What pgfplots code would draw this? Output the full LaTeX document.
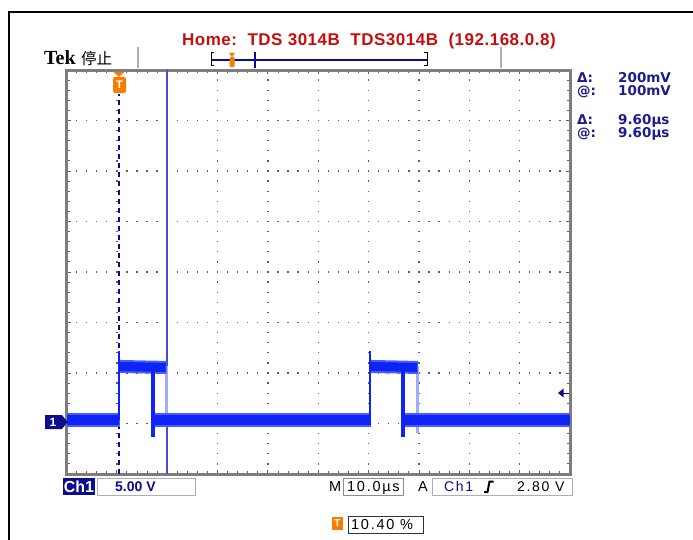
\documentclass[border=0pt]{standalone}
\usepackage{pgfplots}
\pgfplotsset{compat=1.18}
\usepackage{fontspec}
\setmainfont{Liberation Sans}
\newfontfamily\cjk{Noto Sans CJK SC}
\newfontfamily\tekserif{Liberation Serif}
\newfontfamily\rofont{DejaVu Sans}
\newfontfamily\scopefont[LetterSpace=12]{Liberation Sans}
\newfontfamily\titlefont[LetterSpace=3]{Liberation Sans}
\definecolor{trace}{RGB}{14,36,245}
\definecolor{tracehalo}{RGB}{70,95,250}
\definecolor{tracefaint}{RGB}{160,172,250}
\definecolor{navy}{RGB}{12,12,140}
\definecolor{readblue}{RGB}{28,28,140}
\definecolor{tekred}{RGB}{200,12,12}
\definecolor{tekorange}{RGB}{245,125,0}
\definecolor{cursorblue}{RGB}{75,75,210}
\definecolor{bordergray}{RGB}{125,125,125}
\definecolor{gridgray}{RGB}{95,95,95}
\definecolor{boxgray}{RGB}{175,175,175}
\begin{document}
\begin{tikzpicture}
\useasboundingbox (0,0) rectangle (693pt,-540pt);
\begin{axis}[
  at={(66.5pt,-474pt)}, anchor=south west,
  scale only axis, width=503.5pt, height=404pt,
  xmin=0, xmax=10, ymin=-4, ymax=4,
  xtick={0,1,...,10}, ytick={-4,-3,...,4},
  minor x tick num=4, minor y tick num=4,
  xticklabels={}, yticklabels={},
  tick align=inside,
  major tick length=4pt, minor tick length=3pt,
  every tick/.style={gridgray, line width=0.9pt},
  grid=major,
  x grid style={gridgray, line width=1.3pt, dash pattern=on 1.3pt off 8.8pt, dash phase=0.65pt},
  y grid style={gridgray, line width=1.3pt, dash pattern=on 1.3pt off 8.77pt, dash phase=0.65pt},
  axis line style={bordergray, line width=3pt},
]
% cursors
\addplot[cursorblue, line width=1.5pt] coordinates {(2.0,-4) (2.0,4)};
\addplot[navy!80!blue, line width=1.8pt, dash pattern=on 5pt off 4pt] coordinates {(1.04,-4) (1.04,3.52)};
% faint persistence edges
\addplot[tracefaint, line width=3pt] coordinates {(1.99,-1.87) (1.99,-3.05)};
\addplot[tracefaint, line width=3pt] coordinates {(6.98,-1.87) (6.98,-3.18)};
% halo of the noise band
\addplot[tracehalo, line width=14pt] coordinates {(0,-2.93) (1.06,-2.93)};
\addplot[tracehalo, line width=14pt] coordinates {(1.70,-2.93) (6.05,-2.93)};
\addplot[tracehalo, line width=14pt] coordinates {(6.66,-2.93) (10,-2.93)};
\addplot[tracehalo, line width=13pt] coordinates {(1.04,-1.87) (1.99,-1.89)};
\addplot[tracehalo, line width=13pt] coordinates {(6.03,-1.87) (6.98,-1.89)};
% core of the band
\addplot[trace, line width=10pt] coordinates {(0,-2.93) (1.05,-2.93)};
\addplot[trace, line width=10pt] coordinates {(1.71,-2.93) (6.04,-2.93)};
\addplot[trace, line width=10pt] coordinates {(6.67,-2.93) (10,-2.93)};
\addplot[trace, line width=9pt] coordinates {(1.04,-1.87) (1.97,-1.89)};
\addplot[trace, line width=9pt] coordinates {(6.03,-1.87) (6.96,-1.89)};
% edges
\addplot[trace, line width=2.5pt] coordinates {(1.04,-2.93) (1.04,-1.56)};
\addplot[trace, line width=4pt] coordinates {(1.72,-1.87) (1.72,-3.27)};
\addplot[trace, line width=2.5pt] coordinates {(6.03,-2.93) (6.03,-1.56)};
\addplot[trace, line width=4pt] coordinates {(6.68,-1.87) (6.68,-3.27)};
\end{axis}
\begin{scope}[x=1pt,y=-1pt]
% outer frame
\draw[black, line width=2pt] (9,541) -- (9,12) -- (694,12);
% title
\node[anchor=base, text=tekred, font=\titlefont\bfseries\fontsize{17pt}{19pt}\selectfont, inner sep=0] at (369,46) {Home:\ \ TDS 3014B\ \ TDS3014B\ \ (192.168.0.8)};
% Tek label
\node[anchor=base west, inner sep=0, font=\tekserif\bfseries\fontsize{20pt}{21pt}\selectfont] at (44,65) {Tek};
\node[anchor=base west, inner sep=0, font=\cjk\fontsize{15.5pt}{17pt}\selectfont] at (81,65) {停止};
% record view
\draw[boxgray, line width=1.5pt] (138,47) -- (138,68);
\draw[boxgray, line width=1.5pt] (501,47) -- (501,68);
\draw[navy!85!blue, line width=1.2pt] (212,60) -- (427,60);
\draw[black, line width=1pt] (214,53) -- (211,53) -- (211,66) -- (214,66);
\draw[black, line width=1pt] (424,53) -- (427,53) -- (427,66) -- (424,66);
\draw[navy!85!blue, line width=1.2pt] (255,52) -- (255,68);
\fill[tekorange] (229,53) -- (235,53) -- (232,57) -- cycle;
\fill[tekorange, rounded corners=1pt] (229.5,57) rectangle (234.5,67);
% trigger position marker
\fill[tekorange] (113.5,72) -- (124.5,72) -- (119,77) -- cycle;
\fill[tekorange, rounded corners=2pt] (113,77) rectangle (126,93);
\node[text=white, font=\bfseries\fontsize{11pt}{12pt}\selectfont, inner sep=0] at (119.5,85) {T};
% ground marker
\fill[navy] (45,415) -- (62,415) -- (67.5,422) -- (62,429) -- (45,429) -- cycle;
\node[text=white, font=\bfseries\fontsize{12pt}{13pt}\selectfont, inner sep=0] at (53,422) {1};
% trigger level marker
\fill[navy] (558,393) -- (563.5,388.5) -- (563.5,397.5) -- cycle;
\draw[navy, line width=1pt] (563,393) -- (569,393);
% cursor readouts
\begin{scope}[every node/.style={anchor=base west, inner sep=0, text=readblue, font=\rofont\bfseries\fontsize{13.5pt}{14pt}\selectfont}]
\node at (577,83) {Δ:};
\node at (618,83) {200mV};
\node at (577,96) {@:};
\node at (618,96) {100mV};
\node at (577,125) {Δ:};
\node at (618,125) {9.60µs};
\node at (577,138) {@:};
\node at (618,138) {9.60µs};
\end{scope}
% bottom status row
\fill[navy] (63,478) rectangle (95,495);
\node[anchor=base, text=white, inner sep=0, font=\bfseries\fontsize{16pt}{17pt}\selectfont] at (79,492) {Ch1};
\draw[boxgray, line width=1pt] (97,478) rectangle (195,495);
\node[anchor=base west, inner sep=0, text=navy, font=\bfseries\fontsize{14pt}{15pt}\selectfont] at (115,491) {5.00 V};
\node[anchor=base west, inner sep=0, font=\scopefont\fontsize{14.5pt}{15pt}\selectfont] at (329,491) {M};
\draw[boxgray!80!black, line width=1pt] (343.5,478) rectangle (403,495);
\node[anchor=base west, inner sep=0, font=\scopefont\fontsize{14.5pt}{15pt}\selectfont] at (347,491) {10.0µs};
\node[anchor=base west, inner sep=0, font=\scopefont\fontsize{14.5pt}{15pt}\selectfont] at (418,491) {A};
\draw[boxgray, line width=1pt] (432,478) rectangle (572,495);
\node[anchor=base west, inner sep=0, text=navy, font=\scopefont\fontsize{14pt}{15pt}\selectfont] at (444,491) {Ch1};
\draw[black, line width=2pt] (484,492) -- (487.5,492) -- (489.5,481.5) -- (493.5,481.5);
\node[anchor=base west, inner sep=0, font=\scopefont\fontsize{14pt}{15pt}\selectfont] at (517,491) {2.80 V};
% trigger position readout
\fill[tekorange] (332,517) rectangle (343,530);
\node[text=white, font=\bfseries\fontsize{10pt}{11pt}\selectfont, inner sep=0] at (337.5,523.5) {T};
\draw[black!80, line width=0.9pt] (348,516) rectangle (423,533);
\node[anchor=base west, inner sep=0, font=\scopefont\fontsize{14.5pt}{15pt}\selectfont] at (351,529) {10.40 \%};
\end{scope}
\end{tikzpicture}
\end{document}
